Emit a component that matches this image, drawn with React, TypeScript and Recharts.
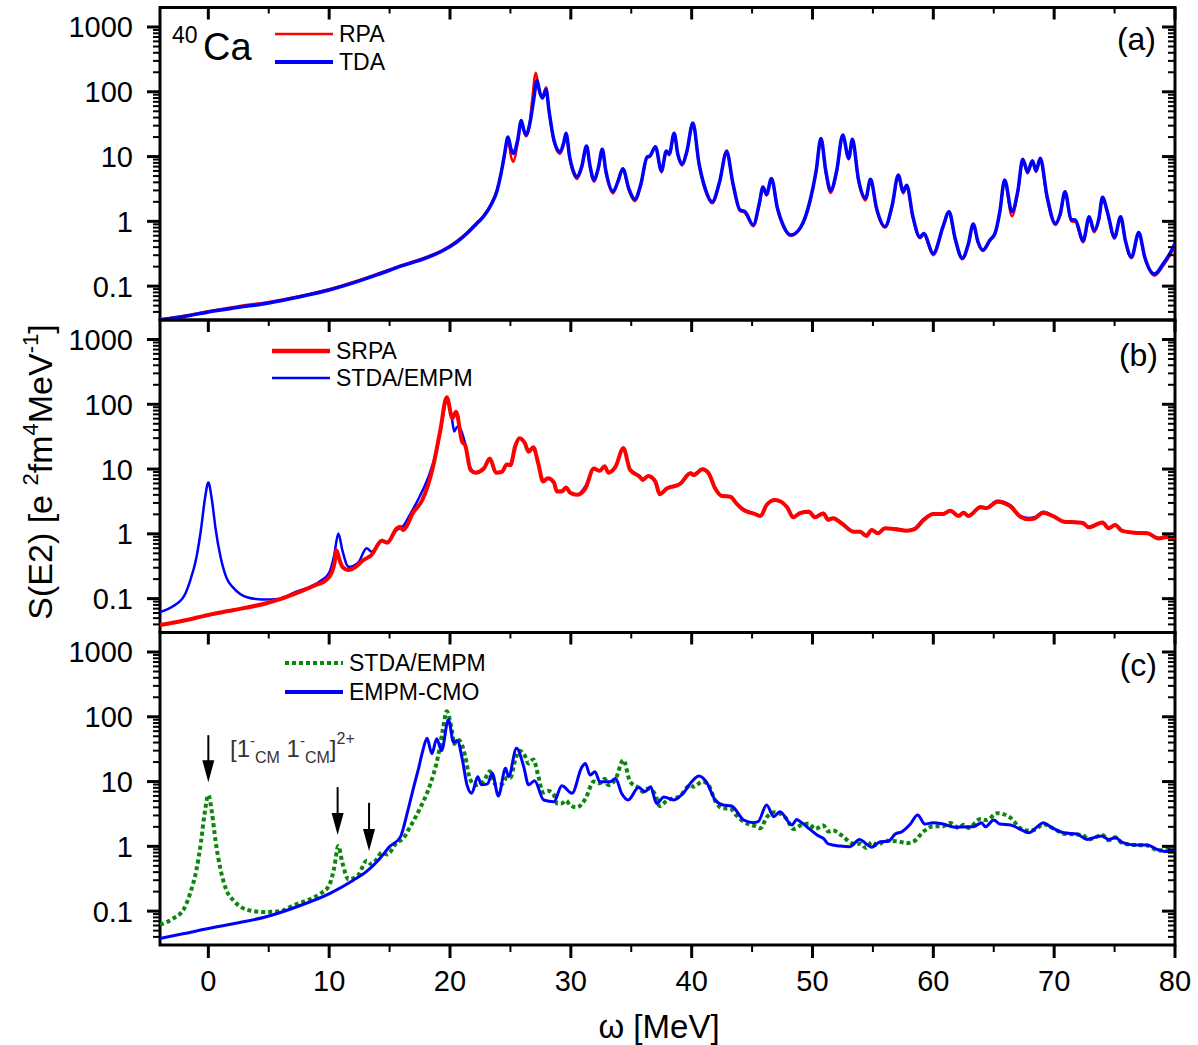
import React from 'react';
import { LineChart, Line, XAxis, YAxis, ReferenceArea, ReferenceLine } from 'recharts';

// ---------- layout ----------
const W = 1198;
const H = 1045;
const PLOT_LEFT = 160;
const PLOT_RIGHT = 1175;
const PANEL_TOP = [7.5, 320, 632.5];
const PANEL_BOTTOM = [320, 632.5, 945];
const AXIS_BAND = 1; // axes need a non-zero band to render their ticks
const FONT = '"Liberation Sans", Arial, Helvetica, sans-serif';
const TICK_FONT = 29;

// ---------- axes ----------
const X_DOMAIN: [number, number] = [-4, 80];
const Y_DOMAIN: [number, number] = [0.03, 2000];
const X_MAJOR = [0, 10, 20, 30, 40, 50, 60, 70, 80];
const X_MINOR = [5, 15, 25, 35, 45, 55, 65, 75];
const X_LABELS = ['0', '10', '20', '30', '40', '50', '60', '70', '80'];
const Y_MAJOR = [0.1, 1, 10, 100, 1000];
const Y_LABELS = ['0.1', '1', '10', '100', '1000'];
const Y_MINOR = [
  0.04, 0.05, 0.06, 0.07, 0.08, 0.09,
  0.2, 0.3, 0.4, 0.5, 0.6, 0.7, 0.8, 0.9,
  2, 3, 4, 5, 6, 7, 8, 9,
  20, 30, 40, 50, 60, 70, 80, 90,
  200, 300, 400, 500, 600, 700, 800, 900,
];

// ---------- strength functions: [omega (MeV), S(E2)] ----------
const TDA: [number, number][] = [
  [-4, 0.030], [-2, 0.034], [0, 0.040], [2.5, 0.047], [5, 0.055], [7.5, 0.068], [10, 0.087],
  [12, 0.112], [14, 0.15], [16, 0.205], [18, 0.27], [19.5, 0.36], [20.5, 0.47], [21.4, 0.65],
  [22.2, 0.92], [22.8, 1.2], [23.4, 1.8], [23.9, 3.0], [24.2, 5.2], [24.5, 10.5], [24.8, 20],
  [25.05, 13], [25.25, 11.2], [25.6, 18], [25.9, 36], [26.1, 26], [26.3, 21.5], [26.6, 32],
  [26.9, 70], [27.2, 150], [27.45, 95], [27.65, 80], [27.95, 108], [28.2, 50], [28.6, 18],
  [29.1, 11.9], [29.4, 16], [29.6, 23], [29.9, 10], [30.2, 6], [30.5, 4.9], [30.9, 7],
  [31.3, 14.5], [31.6, 7], [31.9, 4.4], [32.3, 7], [32.6, 13], [32.9, 6], [33.5, 2.9],
  [33.9, 4.1], [34.3, 6.5], [34.8, 3.2], [35.3, 2.2], [35.8, 3.8], [36.3, 9.8], [36.55, 10.2],
  [37.0, 14.2], [37.5, 6.0], [37.9, 12.2], [38.15, 11], [38.55, 23], [38.85, 11], [39.2, 7.7],
  [39.6, 12], [40.1, 33], [40.6, 8], [41.1, 3.3], [41.7, 2.0], [42.3, 4], [42.9, 11.9],
  [43.4, 4], [44.0, 1.5], [44.4, 1.42], [45.1, 0.88], [45.6, 1.9], [45.9, 3.4], [46.2, 2.6],
  [46.6, 4.6], [47.1, 1.6], [47.6, 0.85], [48.2, 0.615], [49.0, 0.8], [49.8, 2.1], [50.3, 6],
  [50.7, 19], [51.1, 6], [51.5, 3.0], [52.0, 6], [52.5, 21.5], [53.0, 9.4], [53.3, 18.5],
  [53.8, 4.5], [54.4, 2.27], [54.8, 4.45], [55.3, 1.6], [56.0, 0.83], [56.6, 1.8], [57.1, 5.2],
  [57.5, 2.9], [57.8, 3.6], [58.3, 1.2], [58.9, 0.57], [59.2, 0.65], [60.0, 0.32], [60.8, 0.83],
  [61.3, 1.41], [61.8, 0.55], [62.4, 0.27], [62.9, 0.45], [63.3, 0.91], [63.7, 0.48], [64.1, 0.36],
  [64.7, 0.52], [65.1, 0.65], [65.5, 1.4], [65.9, 4.35], [66.5, 1.41], [67.0, 3], [67.4, 9.1],
  [67.8, 5.8], [68.2, 8.6], [68.5, 6.05], [68.85, 9.4], [69.4, 2.5], [70.1, 0.93], [70.5, 1.3],
  [70.9, 2.87], [71.4, 1.07], [71.75, 1.05], [72.4, 0.5], [72.9, 1.18], [73.3, 0.72], [73.7, 1.1],
  [74.0, 2.35], [74.4, 1.41], [75.0, 0.57], [75.5, 1.18], [75.9, 0.5], [76.4, 0.28], [77.0, 0.67],
  [77.5, 0.28], [78.3, 0.154], [79.05, 0.225], [79.5, 0.3], [80, 0.46],
];

const RPA: [number, number][] = [
  [-4, 0.031], [-2, 0.035], [0, 0.041], [2.5, 0.049], [5, 0.057], [7.5, 0.070], [10, 0.090],
  [12, 0.116], [14, 0.155], [16, 0.21], [18, 0.28], [19.5, 0.37], [20.5, 0.49], [21.4, 0.67],
  [22.2, 0.95], [22.8, 1.24], [23.4, 1.85], [23.9, 3.1], [24.2, 5.2], [24.5, 10], [24.8, 18],
  [25.05, 10], [25.25, 8.3], [25.6, 16], [25.9, 34], [26.1, 25], [26.3, 20.5], [26.6, 33],
  [26.8, 75], [27.1, 197], [27.4, 100], [27.65, 82], [27.95, 118], [28.2, 50], [28.6, 17],
  [29.1, 11], [29.4, 15], [29.6, 22], [29.9, 9.5], [30.2, 5.6], [30.5, 4.5], [30.9, 6.6],
  [31.3, 14], [31.6, 6.6], [31.9, 4.1], [32.3, 6.6], [32.6, 12.5], [32.9, 5.6], [33.5, 2.7],
  [33.9, 4.3], [34.3, 6.3], [34.8, 3.0], [35.3, 2.05], [35.8, 3.6], [36.3, 9.5], [36.55, 10],
  [37.0, 14], [37.5, 5.7], [37.9, 12], [38.15, 10.5], [38.55, 22.5], [38.85, 10.5], [39.2, 7.3],
  [39.6, 11.5], [40.1, 33], [40.6, 7.6], [41.1, 3.1], [41.7, 1.9], [42.3, 3.9], [42.9, 12.5],
  [43.4, 3.8], [44.0, 1.45], [44.4, 1.36], [45.1, 0.84], [45.6, 1.8], [45.9, 3.3], [46.2, 2.5],
  [46.6, 4.5], [47.1, 1.5], [47.6, 0.82], [48.2, 0.6], [49.0, 0.78], [49.8, 2.0], [50.3, 5.8],
  [50.7, 19], [51.1, 5.6], [51.5, 2.75], [52.0, 5.7], [52.5, 21], [53.0, 9], [53.3, 18],
  [53.8, 4.2], [54.4, 2.1], [54.8, 4.3], [55.3, 1.5], [56.0, 0.8], [56.6, 1.7], [57.1, 5.0],
  [57.5, 2.7], [57.8, 3.5], [58.3, 1.15], [58.9, 0.55], [59.2, 0.62], [60.0, 0.3], [60.8, 0.8],
  [61.3, 1.38], [61.8, 0.52], [62.4, 0.26], [62.9, 0.43], [63.3, 0.9], [63.7, 0.46], [64.1, 0.35],
  [64.7, 0.5], [65.1, 0.63], [65.5, 1.35], [65.9, 4.2], [66.5, 1.2], [67.0, 2.8], [67.4, 9.0],
  [67.8, 5.5], [68.2, 8.5], [68.5, 5.8], [68.85, 9.2], [69.4, 2.3], [70.1, 0.88], [70.5, 1.25],
  [70.9, 2.8], [71.4, 1.0], [71.75, 0.98], [72.4, 0.47], [72.9, 1.1], [73.3, 0.68], [73.7, 1.05],
  [74.0, 2.3], [74.4, 1.35], [75.0, 0.54], [75.5, 1.15], [75.9, 0.48], [76.4, 0.27], [77.0, 0.65],
  [77.5, 0.27], [78.3, 0.145], [79.05, 0.21], [79.5, 0.28], [80, 0.42],
];

const SRPA: [number, number][] = [
  [-4, 0.039], [-2, 0.046], [0, 0.056], [2, 0.066], [4.8, 0.085], [6, 0.099], [7.6, 0.128],
  [9.0, 0.165], [9.7, 0.19], [10.2, 0.25], [10.45, 0.36], [10.6, 0.56], [10.85, 0.4],
  [11.1, 0.31], [11.6, 0.277], [12.2, 0.31], [12.8, 0.39], [13.5, 0.47], [14.35, 0.78],
  [14.8, 0.73], [15.6, 1.22], [15.87, 1.29], [16.1, 1.15], [17.0, 2.2], [17.7, 3.3],
  [18.6, 10.9], [19.2, 40], [19.73, 128], [20.2, 61], [20.5, 77], [21.0, 26.4], [21.25, 23.5],
  [21.7, 9.7], [22.1, 8.8], [22.8, 10.2], [23.3, 14.6], [23.8, 8.8], [24.3, 9.1], [24.7, 11.8],
  [25.0, 11.5], [25.4, 22.7], [25.75, 29.9], [26.2, 25], [26.5, 18.5], [26.9, 21.7],
  [27.3, 12.3], [27.7, 6.4], [28.1, 7.2], [28.6, 6.2], [28.85, 4.5], [29.25, 4.5], [29.6, 5.2],
  [29.95, 4.3], [30.5, 4.0], [31.2, 5.0], [31.9, 10.2], [32.4, 9.4], [32.8, 11.1], [33.1, 8.8],
  [33.7, 10.9], [34.35, 20.9], [34.9, 9.7], [35.7, 7.6], [35.95, 6.8], [36.4, 7.8], [37.0, 6.4],
  [37.35, 4.1], [37.95, 5.0], [39.05, 5.9], [39.9, 8.6], [40.15, 8.1], [40.9, 9.9], [41.4, 8.6],
  [41.95, 5.0], [42.5, 3.84], [43.2, 3.74], [43.7, 2.95], [44.3, 2.33], [44.85, 2.12],
  [45.25, 2.02], [45.7, 1.88], [46.2, 2.79], [46.9, 3.32], [47.9, 2.57], [48.4, 1.8], [49.0, 2.1],
  [49.7, 2.2], [50.2, 1.8], [50.9, 2.07], [51.3, 1.64], [51.7, 1.74], [52.4, 1.46], [53.4, 1.08],
  [53.95, 1.08], [54.45, 0.93], [54.9, 1.15], [55.4, 1.02], [56.0, 1.22], [57.0, 1.17],
  [57.8, 1.12], [58.4, 1.17], [59.2, 1.64], [60.0, 2.02], [60.8, 2.02], [61.4, 2.28], [62.1, 1.88],
  [62.5, 2.12], [62.9, 1.88], [63.9, 2.57], [64.4, 2.5], [65.3, 3.13], [66.4, 2.63], [67.2, 1.84],
  [67.9, 1.68], [68.4, 1.74], [69.1, 2.12], [70.0, 1.84], [70.8, 1.54], [71.9, 1.5], [72.4, 1.46],
  [72.85, 1.26], [74.0, 1.5], [74.5, 1.22], [75.05, 1.37], [75.6, 1.12], [76.6, 1.04],
  [77.7, 1.02], [78.65, 0.85], [79.3, 0.89], [80, 0.82],
];

const STDA_EMPM: [number, number][] = [
  [-4, 0.062], [-3, 0.075], [-2, 0.11], [-1.5, 0.19], [-1, 0.42], [-0.6, 1.2], [-0.3, 3.3],
  [0, 6.2], [0.3, 3.3], [0.6, 1.2], [1.0, 0.45], [1.5, 0.21], [2.1, 0.145], [3.2, 0.105],
  [4.5, 0.097], [6, 0.1], [7.0, 0.122], [8.5, 0.155], [9.25, 0.185], [10.0, 0.25], [10.4, 0.45],
  [10.76, 1.01], [11.1, 0.55], [11.6, 0.31], [12.4, 0.36], [13.1, 0.6], [13.5, 0.53], [13.9, 0.62],
  [14.35, 0.8], [14.8, 0.75], [15.6, 1.15], [16.1, 1.3], [16.7, 2.0], [17.5, 3.8], [18.35, 8.9],
  [19.0, 24], [19.4, 62], [19.73, 122], [20.15, 62], [20.35, 38], [20.6, 45], [20.85, 42],
  [21.25, 25], [21.65, 11], [22.1, 8.8], [22.8, 10.2], [23.3, 14.4], [23.8, 8.8], [24.3, 9.1],
  [24.7, 11.5], [25.0, 11.5], [25.4, 21.5], [25.75, 30], [26.2, 25], [26.5, 19], [26.9, 22],
  [27.3, 12.3], [27.7, 6.8], [28.1, 7.2], [28.6, 6.2], [28.85, 4.6], [29.25, 4.6], [29.6, 5.1],
  [29.95, 4.3], [30.5, 4.0], [31.2, 5.4], [31.9, 10.0], [32.4, 9.4], [32.8, 11.1], [33.1, 8.8],
  [33.7, 10.9], [34.35, 21.5], [34.9, 10], [35.7, 7.8], [35.95, 6.9], [36.4, 7.8], [37.0, 6.2],
  [37.35, 4.2], [37.95, 5.1], [39.05, 6.0], [39.9, 8.8], [40.15, 8.3], [40.9, 10], [41.4, 8.8],
  [41.95, 5.0], [42.5, 3.9], [43.2, 3.8], [43.7, 3.0], [44.3, 2.4], [44.85, 2.15], [45.25, 2.05],
  [45.7, 1.9], [46.2, 2.8], [46.9, 3.35], [47.9, 2.6], [48.4, 1.85], [49.0, 2.1], [49.7, 2.25],
  [50.2, 1.85], [50.9, 2.1], [51.3, 1.7], [51.7, 1.76], [52.4, 1.48], [53.4, 1.1], [53.95, 1.1],
  [54.45, 0.94], [54.9, 1.16], [55.4, 1.04], [56.0, 1.22], [57.0, 1.2], [57.8, 1.12], [58.4, 1.2],
  [59.2, 1.7], [60.0, 2.05], [60.8, 2.05], [61.4, 2.3], [62.1, 1.92], [62.5, 2.15], [62.9, 1.92],
  [63.9, 2.65], [64.4, 2.55], [65.3, 3.25], [66.4, 2.75], [67.2, 1.9], [67.9, 1.75], [68.4, 1.8],
  [69.1, 2.2], [70.0, 1.86], [70.8, 1.56], [71.9, 1.52], [72.4, 1.48], [72.85, 1.28], [74.0, 1.5],
  [74.5, 1.24], [75.05, 1.38], [75.6, 1.13], [76.6, 1.05], [77.7, 1.03], [78.65, 0.86],
  [79.3, 0.9], [80, 0.82],
];

const EMPM_CMO: [number, number][] = [
  [-4, 0.038], [-2, 0.045], [0, 0.054], [2.5, 0.066], [4.8, 0.082], [7.5, 0.12], [10.07, 0.188],
  [12, 0.3], [13.1, 0.41], [14.2, 0.65], [15.0, 0.99], [15.9, 1.4], [16.5, 3.5], [17.0, 8.3],
  [17.4, 16], [17.75, 30], [18.1, 46.6], [18.5, 27], [18.9, 46], [19.3, 30], [19.87, 90],
  [20.3, 40], [20.6, 43], [21.0, 23], [21.4, 9], [21.8, 6.6], [22.3, 11.9], [22.6, 8.9],
  [23.1, 9.2], [23.5, 13.4], [24.0, 6.0], [24.6, 16], [24.85, 11.9], [25.5, 32.6], [26.1, 17],
  [26.5, 8.9], [27.0, 10.3], [27.75, 5.2], [28.6, 4.9], [29.25, 8.6], [30.1, 6.6], [30.9, 16.6],
  [31.2, 19], [31.6, 12.6], [32.0, 14.2], [32.4, 9.95], [33.25, 9.95], [33.7, 11.2], [34.2, 6.6],
  [34.75, 5.2], [35.6, 8.1], [36.15, 7.0], [36.6, 8.3], [37.1, 4.6], [37.7, 5.8], [38.5, 5.2],
  [39.3, 6.6], [40.0, 9.95], [40.6, 12.2], [41.2, 9.95], [41.95, 5.2], [42.6, 4.35], [43.3, 4.2],
  [44.3, 2.55], [45.1, 2.32], [45.5, 2.4], [46.2, 4.35], [46.8, 2.87], [47.3, 3.43], [48.3, 2.14],
  [48.7, 2.6], [49.0, 2.4], [49.8, 1.83], [50.5, 1.45], [50.9, 1.33], [51.3, 1.09], [52.3, 1.01],
  [53.1, 0.99], [53.9, 1.28], [54.4, 1.11], [54.9, 0.97], [55.6, 1.18], [56.3, 1.2], [56.85, 1.55],
  [57.4, 1.68], [58.1, 2.21], [58.7, 3.05], [59.3, 2.21], [60.0, 2.32], [60.8, 2.21], [61.8, 1.97],
  [62.8, 2.0], [63.3, 2.0], [64.0, 2.32], [64.3, 2.0], [65.0, 2.55], [65.5, 2.21], [66.4, 2.14],
  [67.2, 1.83], [67.9, 1.62], [68.6, 2.0], [69.1, 2.32], [69.7, 2.0], [70.8, 1.62], [71.9, 1.55],
  [72.7, 1.28], [73.9, 1.45], [74.5, 1.28], [75.05, 1.36], [75.7, 1.14], [76.6, 1.05],
  [77.7, 1.05], [78.5, 0.9], [79.3, 0.83], [80, 0.85],
];

// spurious center-of-mass states marked in panel (c): omega, arrow tail, arrow tip
const CM_ARROW_OMEGA = [0, 10.7, 13.3];
const CM_ARROW_FROM = [52, 8.2, 4.7];
const CM_ARROW_TO = [9.8, 1.5, 0.85];

const toPoints = (rows: [number, number][]) => rows.map(([x, y]) => ({ x, y }));

const RED = '#ff0000';
const BLUE = '#0000ff';
const GREEN = '#0b870b';

const X_TICKS = [...X_MAJOR, ...X_MINOR].sort((a, b) => a - b);
const Y_TICKS = [...Y_MAJOR, ...Y_MINOR].sort((a, b) => a - b);

function YTick(props: any) {
  const { y, payload } = props;
  const i = Y_MAJOR.indexOf(payload.value);
  const major = i >= 0;
  const len = major ? 13 : 7;
  const sw = major ? 3 : 2;
  return (
    <g>
      <line x1={PLOT_LEFT} x2={PLOT_LEFT - len} y1={y} y2={y} stroke="#000" strokeWidth={sw} />
      <line x1={PLOT_RIGHT} x2={PLOT_RIGHT - len} y1={y} y2={y} stroke="#000" strokeWidth={sw} />
      {major && (
        <text x={PLOT_LEFT - 27} y={y} dy="0.36em" textAnchor="end" fontSize={TICK_FONT} fontFamily={FONT} fill="#000">
          {Y_LABELS[i]}
        </text>
      )}
    </g>
  );
}

const makeXTick = (panel: number) => (props: any) => {
  const { x, payload } = props;
  const i = X_MAJOR.indexOf(payload.value);
  const major = i >= 0;
  const top = PANEL_TOP[panel];
  const bottom = PANEL_BOTTOM[panel];
  const sw = major ? 3 : 2;
  return (
    <g>
      <line x1={x} x2={x} y1={top} y2={top + (major ? 12 : 6)} stroke="#000" strokeWidth={sw} />
      {panel === 2 && (
        <line x1={x} x2={x} y1={bottom} y2={bottom + (major ? 13 : 7)} stroke="#000" strokeWidth={sw} />
      )}
      {panel === 2 && major && (
        <text x={x} y={991} textAnchor="middle" fontSize={TICK_FONT} fontFamily={FONT} fill="#000">
          {X_LABELS[i]}
        </text>
      )}
    </g>
  );
};

const ArrowShape = (props: any) => {
  const { x1, y1, x2, y2 } = props;
  const head = 22;
  const half = 6;
  return (
    <g>
      <line x1={x1} y1={y1} x2={x2} y2={y2 - head + 2} stroke="#000" strokeWidth={2} />
      <polygon points={`${x2 - half},${y2 - head} ${x2 + half},${y2 - head} ${x2},${y2}`} fill="#000" />
    </g>
  );
};

function Panel({ index, children }: { index: number; children: React.ReactNode }) {
  return (
    <div style={{ position: 'absolute', left: 0, top: 0 }}>
      <LineChart
        width={W}
        height={H}
        margin={{
          top: PANEL_TOP[index],
          right: W - PLOT_RIGHT,
          bottom: H - PANEL_BOTTOM[index] - AXIS_BAND,
          left: PLOT_LEFT - AXIS_BAND,
        }}
      >
        <XAxis
          type="number"
          dataKey="x"
          domain={X_DOMAIN}
          ticks={X_TICKS}
          interval={0}
          allowDataOverflow
          height={AXIS_BAND}
          axisLine={false}
          tickLine={false}
          tick={makeXTick(index)}
        />
        <YAxis
          type="number"
          scale="log"
          domain={Y_DOMAIN}
          ticks={Y_TICKS}
          interval={0}
          allowDataOverflow
          width={AXIS_BAND}
          axisLine={false}
          tickLine={false}
          tick={YTick}
        />
        {children}
        <ReferenceArea
          x1={X_DOMAIN[0]}
          x2={X_DOMAIN[1]}
          y1={Y_DOMAIN[0]}
          y2={Y_DOMAIN[1]}
          fill="none"
          fillOpacity={0}
          stroke="#000"
          strokeWidth={3}
          ifOverflow="visible"
        />
      </LineChart>
    </div>
  );
}

const lineCommon = {
  type: 'monotone' as const,
  dataKey: 'y',
  dot: false,
  activeDot: false,
  isAnimationActive: false,
  strokeLinejoin: 'round' as const,
};

function LegendItem({ x, y, label, color, width, dash }: { x: number; y: number; label: string; color: string; width: number; dash?: string }) {
  return (
    <g>
      <line x1={x} x2={x + 58} y1={y} y2={y} stroke={color} strokeWidth={width} strokeDasharray={dash} />
      <text x={x + 64} y={y + 8} fontSize={23} fontFamily={FONT} fill="#000">
        {label}
      </text>
    </g>
  );
}

function Labels() {
  return (
    <svg width={W} height={H} style={{ position: 'absolute', left: 0, top: 0, pointerEvents: 'none' }} fontFamily={FONT}>
      {/* panel (a) */}
      <text x={172} y={43} fontSize={23} fill="#000">40</text>
      <text x={203} y={60} fontSize={38} fill="#000">Ca</text>
      <LegendItem x={275} y={34} label="RPA" color={RED} width={2.5} />
      <LegendItem x={275} y={62} label="TDA" color={BLUE} width={4} />
      <text x={1156} y={50} fontSize={32} textAnchor="end" fill="#000">(a)</text>

      {/* panel (b) */}
      <LegendItem x={272} y={351} label="SRPA" color={RED} width={4.5} />
      <LegendItem x={272} y={378} label="STDA/EMPM" color={BLUE} width={2.5} />
      <text x={1158} y={366} fontSize={32} textAnchor="end" fill="#000">(b)</text>

      {/* panel (c) */}
      <LegendItem x={285} y={663} label="STDA/EMPM" color={GREEN} width={4} dash="4 3" />
      <LegendItem x={285} y={692} label="EMPM-CMO" color={BLUE} width={4} />
      <text x={1157} y={676} fontSize={32} textAnchor="end" fill="#000">(c)</text>

      <text x={230} y={757} fontSize={24} fill="#333">
        [1
        <tspan fontSize={15} dy={-11}>-</tspan>
        <tspan fontSize={16} dy={17}>CM</tspan>
        <tspan dy={-6}> 1</tspan>
        <tspan fontSize={15} dy={-11}>-</tspan>
        <tspan fontSize={16} dy={17}>CM</tspan>
        <tspan dy={-6}>]</tspan>
        <tspan fontSize={16} dy={-13}>2+</tspan>
      </text>

      {/* axis titles */}
      <text transform="translate(52,472) rotate(-90)" textAnchor="middle" fontSize={34} fill="#000">
        S(E2) [e <tspan fontSize={22} dy={-14}>2</tspan>
        <tspan dy={14}>fm</tspan>
        <tspan fontSize={22} dy={-14}>4</tspan>
        <tspan dy={14}>MeV</tspan>
        <tspan fontSize={22} dy={-14}>-1</tspan>
        <tspan dy={14}>]</tspan>
      </text>
      <text x={659} y={1038} textAnchor="middle" fontSize={33} fill="#000">ω [MeV]</text>
    </svg>
  );
}

export default function App() {
  return (
    <div style={{ position: 'absolute', left: 0, top: 0, width: W, height: H, background: '#fff', overflow: 'hidden' }}>
      <Panel index={0}>
        <Line {...lineCommon} data={toPoints(RPA)} stroke={RED} strokeWidth={2.5} />
        <Line {...lineCommon} data={toPoints(TDA)} stroke={BLUE} strokeWidth={3.5} />
      </Panel>
      <Panel index={1}>
        <Line {...lineCommon} data={toPoints(STDA_EMPM)} stroke={BLUE} strokeWidth={2.5} />
        <Line {...lineCommon} data={toPoints(SRPA)} stroke={RED} strokeWidth={4} />
      </Panel>
      <Panel index={2}>
        <Line {...lineCommon} data={toPoints(STDA_EMPM)} stroke={GREEN} strokeWidth={4} strokeDasharray="4 3" />
        <Line {...lineCommon} data={toPoints(EMPM_CMO)} stroke={BLUE} strokeWidth={3} />
        {CM_ARROW_OMEGA.map((w, i) => (
          <ReferenceLine
            key={i}
            segment={[{ x: w, y: CM_ARROW_FROM[i] }, { x: w, y: CM_ARROW_TO[i] }]}
            shape={ArrowShape}
            ifOverflow="visible"
          />
        ))}
      </Panel>
      <Labels />
    </div>
  );
}
